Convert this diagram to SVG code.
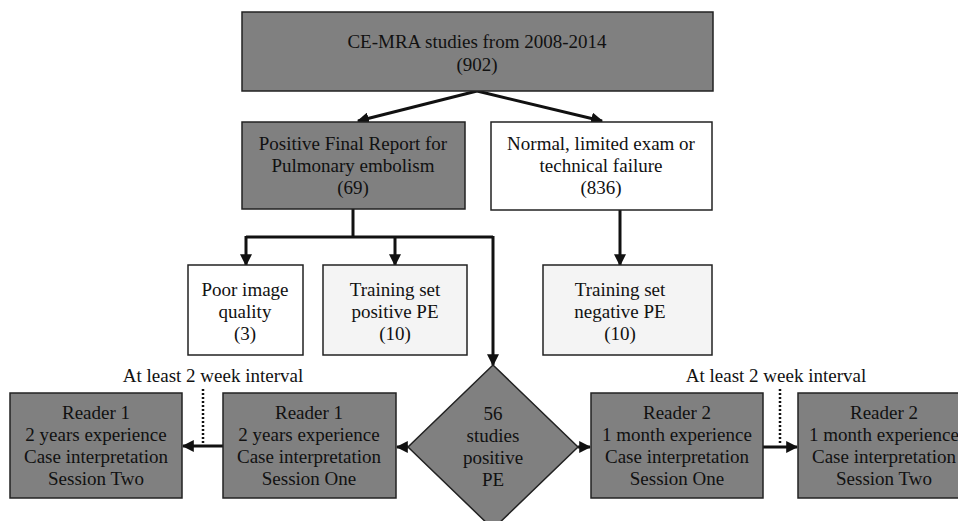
<svg xmlns="http://www.w3.org/2000/svg" width="958" height="521" viewBox="0 0 958 521">
<style>
.dark{fill:#808080;stroke:#222;stroke-width:1.5}
.white{fill:#ffffff;stroke:#222;stroke-width:1.5}
.light{fill:#f4f4f4;stroke:#222;stroke-width:1.5}
text{font-family:"Liberation Serif","Times New Roman",serif;font-size:19px;fill:#111;text-anchor:middle}
.conn{stroke:#111;stroke-width:3;fill:none}
.dot{stroke:#111;stroke-width:2.5;stroke-dasharray:2 2;fill:none}
</style>
<defs>
<marker id="ah" viewBox="0 0 10 10" refX="9" refY="5" markerWidth="4" markerHeight="4" orient="auto" markerUnits="strokeWidth">
<path d="M0,0 L10,5 L0,10 z" fill="#111"/>
</marker>
</defs>
<rect width="958" height="521" fill="#fff"/>
<g id="connectors">
<line class="conn" x1="477" y1="91" x2="358" y2="121" marker-end="url(#ah)"/>
<line class="conn" x1="477" y1="91" x2="602" y2="121" marker-end="url(#ah)"/>
<polyline class="conn" points="353,209 353,237"/>
<polyline class="conn" points="246,237 493,237"/>
<line class="conn" x1="246" y1="236" x2="246" y2="265" marker-end="url(#ah)"/>
<line class="conn" x1="395" y1="237" x2="395" y2="265" marker-end="url(#ah)"/>
<line class="conn" x1="493" y1="236" x2="493" y2="365" marker-end="url(#ah)"/>
<line class="conn" x1="620" y1="210" x2="620" y2="265" marker-end="url(#ah)"/>
<line class="conn" x1="408" y1="447" x2="397" y2="447" marker-end="url(#ah)"/>
<line class="conn" x1="223" y1="446" x2="183" y2="446" marker-end="url(#ah)"/>
<line class="conn" x1="578" y1="447" x2="590" y2="447" marker-end="url(#ah)"/>
<line class="conn" x1="763" y1="447" x2="797" y2="447" marker-end="url(#ah)"/>
<line class="dot" x1="203" y1="389" x2="203" y2="445"/>
<line class="dot" x1="780" y1="389" x2="780" y2="445"/>
</g>
<g id="top">
<rect class="dark" x="242" y="12" width="471" height="79"/>
<text x="477" y="48">CE-MRA studies from 2008-2014</text>
<text x="477" y="71">(902)</text>
</g>
<g id="positive">
<rect class="dark" x="242" y="122" width="223" height="87"/>
<text x="353" y="150">Positive Final Report for</text>
<text x="353" y="172">Pulmonary embolism</text>
<text x="353" y="194">(69)</text>
</g>
<g id="normal">
<rect class="white" x="491" y="122" width="221" height="88"/>
<text x="601" y="150">Normal, limited exam or</text>
<text x="601" y="172">technical failure</text>
<text x="601" y="194">(836)</text>
</g>
<g id="poor">
<rect class="white" x="188" y="265" width="115" height="90"/>
<text x="245" y="296">Poor image</text>
<text x="245" y="318">quality</text>
<text x="245" y="340">(3)</text>
</g>
<g id="trainpos">
<rect class="light" x="323" y="265" width="144" height="90"/>
<text x="395" y="296">Training set</text>
<text x="395" y="318">positive PE</text>
<text x="395" y="340">(10)</text>
</g>
<g id="trainneg">
<rect class="light" x="543" y="265" width="169" height="90"/>
<text x="620" y="296">Training set</text>
<text x="620" y="318">negative PE</text>
<text x="620" y="340">(10)</text>
</g>
<g id="diamond">
<polygon class="dark" points="493,365 578,447 493,529 408,447"/>
<text x="493" y="420">56</text>
<text x="493" y="442">studies</text>
<text x="493" y="464">positive</text>
<text x="493" y="486">PE</text>
</g>
<g id="r1s1">
<rect class="dark" x="223" y="393" width="173" height="105"/>
<text x="309" y="419">Reader 1</text>
<text x="309" y="441">2 years experience</text>
<text x="309" y="463">Case interpretation</text>
<text x="309" y="485">Session One</text>
</g>
<g id="r1s2">
<rect class="dark" x="10" y="393" width="172" height="105"/>
<text x="96" y="419">Reader 1</text>
<text x="96" y="441">2 years experience</text>
<text x="96" y="463">Case interpretation</text>
<text x="96" y="485">Session Two</text>
</g>
<g id="r2s1">
<rect class="dark" x="591" y="393" width="172" height="105"/>
<text x="677" y="419">Reader 2</text>
<text x="677" y="441">1 month experience</text>
<text x="677" y="463">Case interpretation</text>
<text x="677" y="485">Session One</text>
</g>
<g id="r2s2">
<rect class="dark" x="798" y="393" width="172" height="105"/>
<text x="884" y="419">Reader 2</text>
<text x="884" y="441">1 month experience</text>
<text x="884" y="463">Case interpretation</text>
<text x="884" y="485">Session Two</text>
</g>
<g id="labels">
<text x="213" y="382">At least 2 week interval</text>
<text x="776" y="382">At least 2 week interval</text>
</g>
</svg>
